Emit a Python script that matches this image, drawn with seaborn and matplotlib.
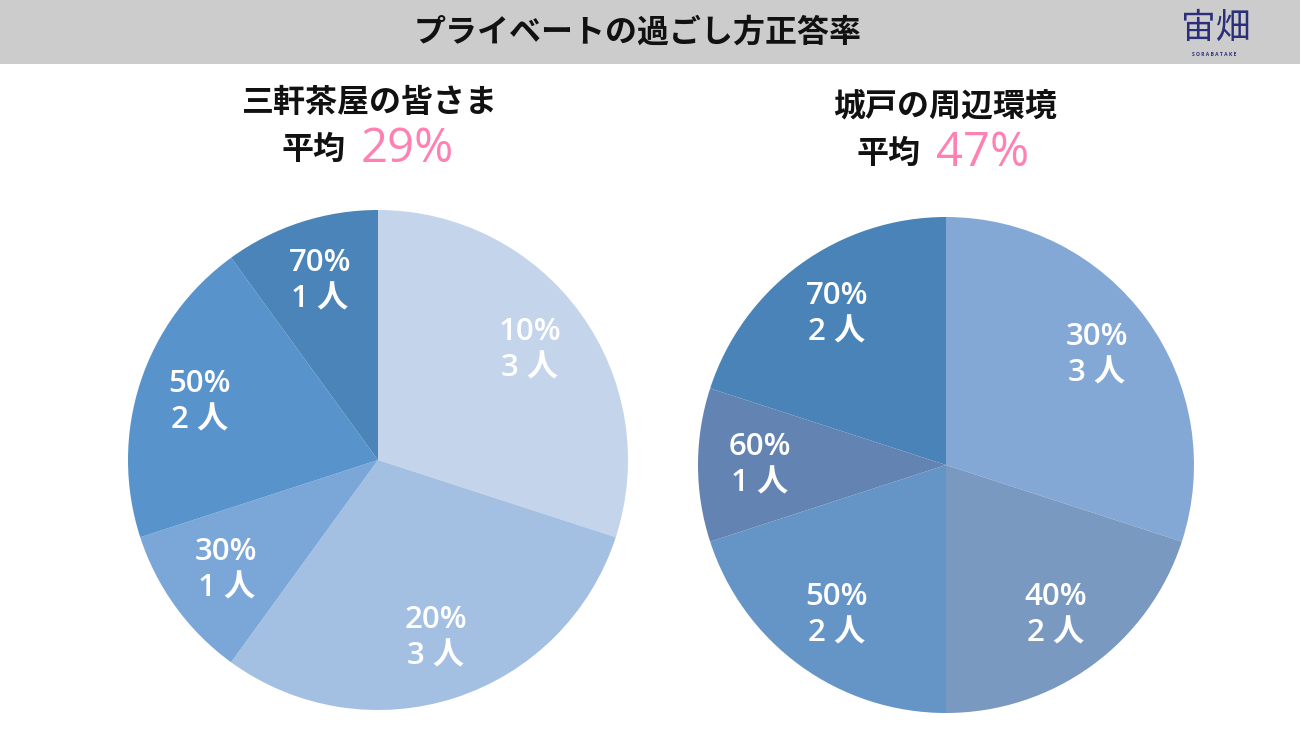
import matplotlib
matplotlib.use("Agg")
import matplotlib.pyplot as plt
import seaborn as sns
from matplotlib.patches import Rectangle

# ---- data ----
TITLE = "プライベートの過ごし方正答率"
left_title = "三軒茶屋の皆さま"
left_avg = "29%"
left_scores = ["10%", "20%", "30%", "50%", "70%"]
left_people = [3, 3, 1, 2, 1]
left_colors = ["#c4d4ea", "#a3bfe2", "#7aa7d8", "#5894cb", "#4a84b8"]

right_title = "城戸の周辺環境"
right_avg = "47%"
right_scores = ["30%", "40%", "50%", "60%", "70%"]
right_people = [3, 2, 2, 1, 2]
right_colors = ["#84a8d6", "#7a99c0", "#6594c7", "#6384b2", "#4a83b7"]

# ---- style ----
sns.set_theme(style="white")
plt.rcParams["font.family"] = ["Noto Sans CJK JP", "DejaVu Sans"]
LATIN = ["Open Sans", "Noto Sans CJK JP"]

W, H = 1300, 731
fig = plt.figure(figsize=(W / 100, H / 100), dpi=100)
fig.patch.set_facecolor("white")

# header band
fig.patches.append(Rectangle((0, 1 - 64 / H), 1, 64 / H, transform=fig.transFigure,
                             facecolor="#cccccc", edgecolor="none", zorder=0))
fig.text(638 / W, 1 - 33 / H, TITLE, ha="center", va="center", fontsize=23,
         fontweight="bold", color="#111111")
# logo
fig.text(1216 / W, 1 - 28 / H, "宙畑", ha="center", va="center", fontsize=25,
         color="#2b2f7a", style="italic")
fig.text(1214 / W, 1 - 54 / H, "S O R A B A T A K E", ha="center", va="center",
         fontsize=3.6, fontweight="bold", color="#2b2f7a", family=LATIN)


def draw_pie(cx, cy, r, scores, people, colors, title, avg, tx, ty):
    ax = fig.add_axes([(cx - r) / W, (H - cy - r) / H, 2 * r / W, 2 * r / H])
    labels = [f"{s}\n{n} 人" for s, n in zip(scores, people)]
    wedges, texts = ax.pie(people, colors=colors, startangle=90, counterclock=False,
                           labels=labels, labeldistance=0.75, radius=1,
                           wedgeprops=dict(linewidth=0))
    for t in texts:
        t.set_ha("center")
        t.set_va("center")
        t.set_color("white")
        t.set_fontsize(22.5)
        t.set_family(LATIN)
        t.set_fontweight("semibold")
        t.set_linespacing(1.28)
    ax.set_xlim(-1, 1)
    ax.set_ylim(-1, 1)
    ax.set_aspect("equal")
    ax.axis("off")
    fig.text(tx / W, 1 - ty / H, title, ha="center", va="center", fontsize=23,
             fontweight="bold", color="#111111")
    fig.text((tx - 24) / W, 1 - (ty + 47) / H, "平均", ha="right", va="center",
             fontsize=23, fontweight="bold", color="#111111")
    fig.text((tx - 9) / W, 1 - (ty + 46) / H, avg, ha="left", va="center",
             fontsize=34, color="#ff80b2", family=LATIN)


draw_pie(378, 460, 250, left_scores, left_people, left_colors,
         left_title, left_avg, 370, 103)
draw_pie(946, 465, 248, right_scores, right_people, right_colors,
         right_title, right_avg, 945, 107)

fig.savefig("out.png", dpi=100)
